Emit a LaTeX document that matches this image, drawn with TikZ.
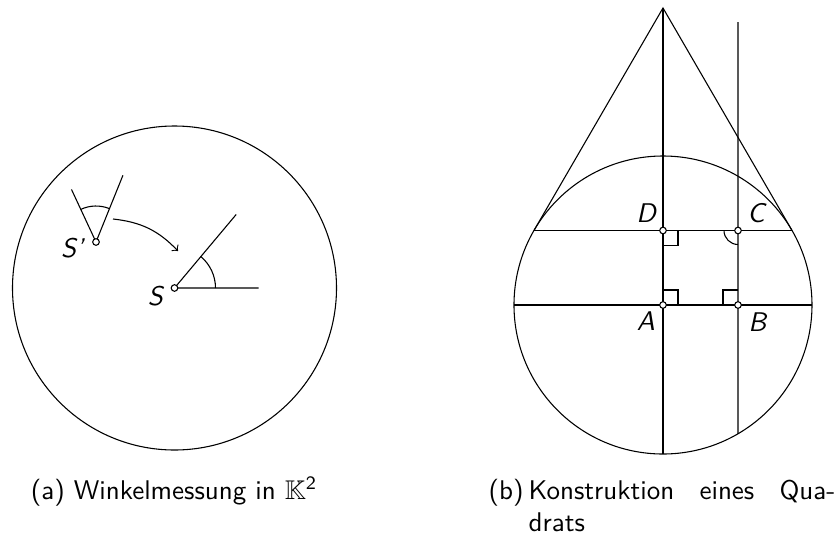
\documentclass[tikz,border=0pt]{standalone}
\usepackage{amssymb}
\usepackage{tikz}
\usetikzlibrary{positioning,calc}

\begin{document}
\begin{tikzpicture}[x=0.37pt,y=0.37pt,every node/.style={font=\sffamily,inner sep=0pt}]
    \useasboundingbox (0,0) rectangle (839,537);

    % Winkelmessung
    \coordinate (S) at (174.5,249);
    \draw (S) circle (162);
    \coordinate [right=84 of S] (s1);
    \coordinate (s2) at ($(S)+(50:96)$);
    \draw (s1) -- (S) -- (s2);
    \draw ($(S)+(41,0)$) arc (0:50:41);

    \coordinate (Sp) at (96,295);
    \coordinate (p1) at ($(Sp)+(115:58)$);
    \coordinate (p2) at ($(Sp)+(68:72)$);
    \draw (p1) -- (Sp) -- (p2);
    \draw ($(Sp)+(68:36)$) arc (68:115:36);

    \coordinate (a1) at (113,318);
    \coordinate (a2) at (178,286);
    \draw[->] (a1) to[bend left=20] (a2);

    \filldraw[fill=white] (S) circle (3.3);
    \filldraw[fill=white] (Sp) circle (3.3);
    \node (lS) at (156,241) {\textit{S}};
    \node (lSp) at (73,289) {\textit{S'}};

    % Quadrat
    \coordinate (A) at (663,232);
    \draw (A) circle (149);
    \coordinate (P) at (663,529);
    \coordinate (T1) at ($(A)+(150:149)$);
    \coordinate (T2) at ($(A)+(30:149)$);
    \coordinate (D) at ($(T1)!0.5!(T2)$);
    \coordinate (B) at (738,232);
    \coordinate (C) at (B |- D);
    \coordinate (btop) at (738,515);
    \coordinate (bbot) at ($(A)+(-59.78:149)$);

    \draw (T1) -- (P) -- (T2);
    \draw (P) -- ($(A)+(270:149)$);
    \draw (T1) -- (T2);
    \draw ($(A)+(180:149)$) -- ($(A)+(0:149)$);
    \draw (btop) -- (bbot);

    \draw ($(D)+(0,-15)$) -| ($(D)+(15,0)$);
    \draw ($(A)+(0,15)$) -| ($(A)+(15,0)$);
    \draw ($(B)+(0,15)$) -| ($(B)+(-15,0)$);
    \draw ($(C)+(-14,0)$) arc (180:270:14);

    \foreach \p in {A,B,C,D}
        \filldraw[fill=white] (\p) circle (3.3);
    \node (lA) at (646,216) {\textit{A}};
    \node (lB) at (758,215) {\textit{B}};
    \node (lC) at (757,324) {\textit{C}};
    \node (lD) at (647,324) {\textit{D}};

    % Unterschriften
    \node[anchor=base] (capa) at (174,38) {(a) Winkelmessung in $\mathbb{K}$\textsuperscript{2}};
    \node[anchor=base west] (capb) at (488,38) {(b)};
    \node[anchor=base west] (capb1) at (528,38) {Konstruktion};
    \node[anchor=base west] (capb2) at (699,38) {eines};
    \node[anchor=base east] (capb3) at (836,38) {Qua-};
    \node[anchor=base west] (capb4) at (528,6) {drats};
\end{tikzpicture}
\end{document}
